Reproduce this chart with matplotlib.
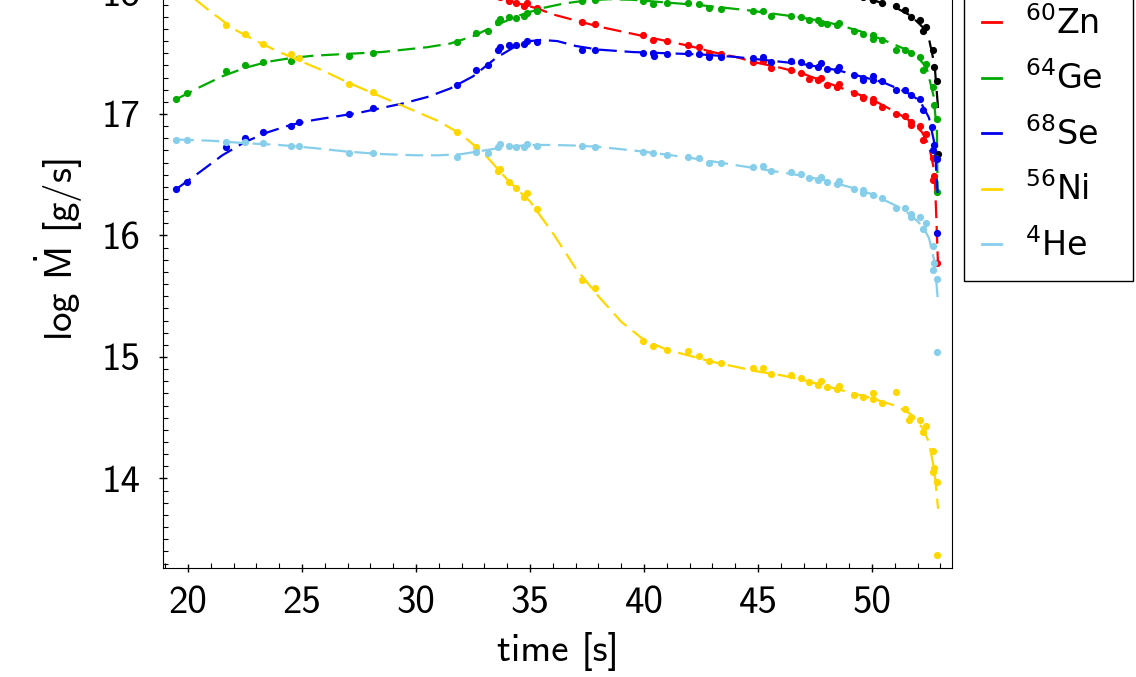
import matplotlib
matplotlib.use("Agg")
import matplotlib.pyplot as plt
from matplotlib.lines import Line2D
from matplotlib.ticker import MultipleLocator

plt.rcParams['mathtext.fontset'] = 'custom'
plt.rcParams['mathtext.rm'] = 'DejaVu Sans'
plt.rcParams['mathtext.it'] = 'DejaVu Sans:italic'
plt.rcParams['mathtext.bf'] = 'DejaVu Sans:bold'
plt.rcParams['mathtext.sf'] = 'cmss10'

# ---- data (time [s], log Mdot [g/s]) ----
t_ge = [19.47, 19.97, 21.67, 22.50, 23.28, 24.50, 27.07, 28.10, 31.79, 32.65, 33.14, 33.61, 33.68,
        34.08, 34.39, 34.74, 34.86, 35.29, 37.29, 37.87, 39.97, 40.38, 40.99, 41.94, 42.43, 42.86,
        43.36, 44.76, 45.23, 45.57, 46.43, 46.87, 47.25, 47.64, 47.75, 48.04, 48.45, 48.57, 49.23,
        49.60, 50.03, 50.06, 50.43, 51.07, 51.46, 51.71, 52.11, 52.37, 52.22, 52.66, 52.72, 52.84, 52.86]
v_ge = [17.12, 17.17, 17.35, 17.40, 17.43, 17.44, 17.48, 17.50, 17.59, 17.67, 17.68, 17.76, 17.78,
        17.80, 17.79, 17.81, 17.83, 17.85, 17.93, 17.94, 17.93, 17.905, 17.91, 17.91, 17.905, 17.87,
        17.865, 17.85, 17.85, 17.81, 17.81, 17.80, 17.77, 17.77, 17.75, 17.74, 17.73, 17.75, 17.68,
        17.66, 17.65, 17.62, 17.61, 17.53, 17.53, 17.50, 17.47, 17.41, 17.36, 17.22, 17.07, 16.96, 16.36]

t_se = [19.47, 19.97, 21.67, 22.50, 23.28, 24.50, 24.88, 27.07, 28.10, 31.79, 32.65, 33.14, 33.61,
        33.68, 34.08, 34.39, 34.74, 34.86, 35.29, 37.29, 37.87, 39.97, 40.38, 40.45, 40.99, 41.94,
        42.43, 42.86, 43.36, 44.76, 45.23, 45.57, 46.43, 46.87, 47.25, 47.64, 47.75, 48.04, 48.45,
        48.57, 49.23, 49.60, 49.62, 50.03, 50.06, 50.43, 51.07, 51.46, 51.71, 52.11, 52.22, 52.62,
        52.72, 52.66, 52.86, 52.87]
v_se = [16.38, 16.44, 16.73, 16.80, 16.85, 16.90, 16.93, 17.00, 17.05, 17.24, 17.36, 17.40, 17.53,
        17.55, 17.57, 17.57, 17.58, 17.60, 17.59, 17.53, 17.53, 17.50, 17.50, 17.48, 17.49, 17.50,
        17.49, 17.47, 17.47, 17.46, 17.47, 17.43, 17.44, 17.43, 17.40, 17.39, 17.42, 17.37, 17.36,
        17.39, 17.32, 17.30, 17.28, 17.28, 17.31, 17.27, 17.20, 17.20, 17.16, 17.12, 17.03, 16.89,
        16.745, 16.70, 16.63, 16.02]

t_zn = [33.61, 33.68, 34.08, 34.39, 34.74, 34.86, 35.29, 37.29, 37.87, 39.97, 40.38, 40.99, 41.94,
        42.43, 42.86, 43.36, 44.76, 45.23, 45.57, 46.43, 46.87, 47.25, 47.64, 47.75, 48.04, 48.45,
        48.57, 49.23, 49.60, 49.62, 50.03, 50.06, 50.43, 51.07, 51.46, 51.71, 51.73, 52.11, 52.37,
        52.22, 52.66, 52.72, 52.66, 52.87]
v_zn = [17.98, 17.96, 17.93, 17.91, 17.89, 17.91, 17.87, 17.755, 17.74, 17.65, 17.61, 17.60, 17.57,
        17.55, 17.50, 17.49, 17.43, 17.44, 17.38, 17.36, 17.34, 17.29, 17.28, 17.30, 17.24, 17.22,
        17.25, 17.17, 17.13, 17.14, 17.12, 17.10, 17.06, 17.00, 16.98, 16.91, 16.93, 16.90, 16.835,
        16.79, 16.64, 16.49, 16.46, 15.77]

t_he = [19.47, 19.97, 21.67, 22.50, 23.28, 24.50, 24.88, 27.07, 28.10, 31.79, 32.65, 33.14, 33.61,
        33.68, 34.08, 34.39, 34.74, 34.86, 35.29, 37.29, 37.87, 39.97, 40.38, 40.99, 41.94, 42.43,
        42.86, 43.36, 44.76, 45.23, 45.57, 46.43, 46.87, 47.25, 47.64, 47.75, 48.04, 48.45, 48.57,
        49.23, 49.60, 49.62, 50.03, 50.43, 51.07, 51.46, 51.71, 51.73, 52.11, 52.37, 52.22, 52.66,
        52.72, 52.66, 52.86, 52.87]
v_he = [16.79, 16.79, 16.77, 16.77, 16.76, 16.74, 16.74, 16.68, 16.68, 16.65, 16.69, 16.68, 16.73,
        16.75, 16.74, 16.73, 16.73, 16.75, 16.74, 16.74, 16.73, 16.69, 16.68, 16.66, 16.65, 16.64,
        16.60, 16.60, 16.56, 16.575, 16.53, 16.525, 16.51, 16.47, 16.46, 16.48, 16.44, 16.42, 16.45,
        16.38, 16.35, 16.375, 16.33, 16.31, 16.23, 16.23, 16.155, 16.18, 16.15, 16.105, 16.05, 15.91,
        15.77, 15.72, 15.64, 15.04]

t_ni = [19.47, 19.97, 21.67, 22.50, 23.28, 24.50, 24.88, 27.07, 28.10, 31.79, 32.65, 33.61, 33.68,
        34.08, 34.39, 34.74, 34.86, 35.29, 37.29, 37.87, 39.97, 40.38, 40.99, 41.94, 42.43, 42.86,
        43.36, 44.76, 45.23, 45.57, 46.43, 46.87, 47.25, 47.64, 47.75, 48.04, 48.45, 48.57, 49.23,
        49.60, 50.03, 50.06, 50.43, 51.07, 51.46, 51.71, 51.61, 52.11, 52.37, 52.22, 52.66, 52.72,
        52.66, 52.86, 52.87]
v_ni = [18.05, 17.99, 17.73, 17.66, 17.58, 17.49, 17.46, 17.25, 17.18, 16.85, 16.73, 16.53, 16.55,
        16.44, 16.39, 16.32, 16.35, 16.22, 15.63, 15.565, 15.13, 15.09, 15.06, 15.05, 15.01, 14.97,
        14.95, 14.91, 14.91, 14.86, 14.85, 14.83, 14.79, 14.77, 14.80, 14.75, 14.74, 14.76, 14.69,
        14.67, 14.70, 14.65, 14.62, 14.71, 14.57, 14.51, 14.48, 14.48, 14.43, 14.38, 14.23, 14.09,
        14.05, 13.97, 13.37]

t_tot = [48.45, 48.57, 49.23, 49.60, 50.03, 50.06, 50.43, 51.07, 51.46, 51.71, 52.11, 52.37, 52.22,
         52.66, 52.72, 52.87, 52.88]
v_tot = [18.04, 18.05, 17.99, 17.965, 17.95, 17.935, 17.91, 17.89, 17.86, 17.80, 17.77, 17.72, 17.68,
         17.53, 17.39, 17.27, 16.67]

# dashed fit curves
fit_t_ge = [19.47, 20.5, 21.5, 22.5, 23.5, 24.5, 25.5, 26.5, 27.5, 28.5, 29.5, 30.5, 31.5, 32.5, 33.5,
            34.5, 35.5, 36.5, 37.5, 38.5, 39.5, 40.5, 41.5, 42.5, 43.5, 44.5, 45.5, 46.5, 47.5, 48.5,
            49.5, 50.5, 51.5, 52.0, 52.4, 52.7, 52.85, 52.88]
fit_v_ge = [17.12, 17.22, 17.31, 17.38, 17.43, 17.46, 17.48, 17.49, 17.50, 17.51, 17.53, 17.55, 17.58,
            17.64, 17.73, 17.81, 17.87, 17.91, 17.935, 17.945, 17.94, 17.925, 17.91, 17.895, 17.875,
            17.855, 17.83, 17.805, 17.775, 17.735, 17.68, 17.61, 17.53, 17.47, 17.38, 17.15, 16.85, 16.35]

fit_t_se = [19.47, 20.5, 21.5, 22.5, 23.5, 24.5, 25.5, 26.5, 27.5, 28.5, 29.5, 30.5, 31.5, 32.5, 33.5,
            34.3, 35.0, 35.5, 36.2, 37.0, 38.0, 39.5, 41.0, 42.5, 44.0, 45.5, 47.0, 48.5, 49.5, 50.5,
            51.5, 52.1, 52.5, 52.75, 52.88]
fit_v_se = [16.38, 16.52, 16.66, 16.77, 16.85, 16.91, 16.95, 16.98, 17.01, 17.05, 17.09, 17.14, 17.21,
            17.31, 17.46, 17.55, 17.60, 17.61, 17.60, 17.56, 17.53, 17.51, 17.50, 17.49, 17.47, 17.44,
            17.41, 17.36, 17.31, 17.26, 17.18, 17.11, 16.97, 16.75, 16.35]

fit_t_zn = [33.4, 34.0, 34.5, 35.3, 36.0, 37.0, 38.0, 39.0, 40.0, 41.0, 42.0, 43.0, 44.0, 45.0, 46.0,
            47.0, 48.0, 49.0, 50.0, 51.0, 51.7, 52.2, 52.5, 52.75, 52.9]
fit_v_zn = [18.0, 17.94, 17.91, 17.87, 17.82, 17.77, 17.72, 17.68, 17.64, 17.60, 17.56, 17.51, 17.47,
            17.42, 17.38, 17.33, 17.26, 17.19, 17.12, 17.02, 16.94, 16.85, 16.74, 16.52, 15.75]

fit_t_he = [19.47, 21.0, 22.5, 24.0, 25.5, 27.0, 28.5, 30.0, 31.0, 32.0, 33.0, 34.0, 35.0, 36.0, 37.0,
            38.0, 39.0, 40.0, 41.0, 42.0, 43.0, 44.0, 45.0, 46.0, 47.0, 48.0, 49.0, 50.0, 51.0, 51.7,
            52.2, 52.5, 52.75, 52.9]
fit_v_he = [16.79, 16.78, 16.76, 16.745, 16.72, 16.69, 16.67, 16.66, 16.66, 16.67, 16.70, 16.73, 16.745,
            16.745, 16.74, 16.73, 16.71, 16.69, 16.665, 16.64, 16.61, 16.58, 16.55, 16.52, 16.49, 16.45,
            16.40, 16.34, 16.25, 16.17, 16.08, 15.98, 15.78, 15.45]

fit_t_ni = [19.0, 20.0, 21.0, 22.0, 23.0, 24.0, 25.0, 26.0, 27.0, 28.0, 29.0, 30.0, 31.0, 32.0, 33.0,
            34.0, 35.0, 36.0, 37.0, 38.0, 39.0, 40.0, 41.0, 42.0, 43.0, 44.0, 45.0, 46.0, 47.0, 48.0,
            49.0, 50.0, 51.0, 51.7, 52.2, 52.5, 52.75, 52.9]
fit_v_ni = [18.14, 17.99, 17.84, 17.70, 17.60, 17.51, 17.43, 17.35, 17.26, 17.18, 17.10, 17.02, 16.94,
            16.83, 16.67, 16.46, 16.28, 16.02, 15.73, 15.50, 15.29, 15.14, 15.06, 15.01, 14.96, 14.92,
            14.88, 14.85, 14.81, 14.76, 14.71, 14.66, 14.60, 14.53, 14.42, 14.30, 14.05, 13.75]

fit_t_tot = [47.0, 48.0, 49.0, 50.0, 51.0, 51.7, 52.2, 52.5, 52.75, 52.9]
fit_v_tot = [18.09, 18.04, 17.99, 17.94, 17.88, 17.81, 17.72, 17.62, 17.40, 17.05]

series = [
    ('Total', 'black', t_tot, v_tot, fit_t_tot, fit_v_tot),
    ('$^{60}$Zn', '#ff0000', t_zn, v_zn, fit_t_zn, fit_v_zn),
    ('$^{64}$Ge', '#00aa00', t_ge, v_ge, fit_t_ge, fit_v_ge),
    ('$^{68}$Se', '#0000ee', t_se, v_se, fit_t_se, fit_v_se),
    ('$^{56}$Ni', '#ffd700', t_ni, v_ni, fit_t_ni, fit_v_ni),
    ('$^{4}$He', '#87ceeb', t_he, v_he, fit_t_he, fit_v_he),
]

fig = plt.figure(figsize=(11.36, 6.77), dpi=100)
ax = fig.add_axes([0.1435, 0.161, 0.6945, 0.9398])

handles = []
for label, color, t, v, ft, fv in series:
    ax.plot(ft, fv, color=color, lw=1.6, ls=(0, (8, 3.5)))
    ax.plot(t, v, 'o', color=color, ms=5.2, mew=0)
    handles.append(Line2D([], [], color=color, lw=2))

ax.set_xlim(18.9, 53.51)
ax.set_ylim(13.263, 18.5)

ax.xaxis.set_major_locator(MultipleLocator(5))
ax.xaxis.set_minor_locator(MultipleLocator(1))
ax.yaxis.set_major_locator(MultipleLocator(1))
ax.yaxis.set_minor_locator(MultipleLocator(0.1))
ax.tick_params(which='major', direction='inout', length=6, width=1, labelsize=28)
ax.tick_params(axis='x', which='major', pad=10)
ax.tick_params(axis='y', which='major', pad=13)
ax.tick_params(which='minor', direction='in', length=3.5, width=0.8)
ax.tick_params(top=False, right=False, which='both')
for lab in ax.get_xticklabels() + ax.get_yticklabels():
    lab.set_fontfamily('cmss10')

ax.set_xlabel('time [s]', fontsize=28, fontfamily='cmss10', labelpad=8)
ax.set_ylabel(r'log $\dot{\mathsf{M}}$ [g/s]', fontsize=28, fontfamily='cmss10', labelpad=12)

leg = ax.legend(handles, [s[0] for s in series], loc='lower left',
                bbox_to_anchor=(964 / 1136, 1 - 281 / 677, 169 / 1136, 0),
                bbox_transform=fig.transFigure, mode='expand',
                borderaxespad=0, handlelength=0.57, handletextpad=0.72,
                borderpad=0.55, labelspacing=0.62, fancybox=False, framealpha=1,
                edgecolor='black', prop={'family': 'DejaVu Sans', 'size': 24})
leg.get_frame().set_linewidth(1.0)

fig.savefig('out.png', dpi=100)
